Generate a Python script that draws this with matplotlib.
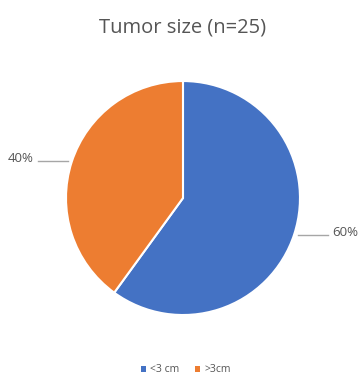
import numpy as np
import matplotlib
matplotlib.use("Agg")
import matplotlib.pyplot as plt
from matplotlib.patches import Patch

categories = ["<3 cm", ">3cm"]
values = [60, 40]
pct_labels = ["60%", "40%"]
colors = ["#4472C4", "#ED7D31"]
title = "Tumor size (n=25)"

plt.rcParams['font.family'] = ['Open Sans', 'DejaVu Sans']
text_color = "#555555"

fig = plt.figure(figsize=(3.63, 3.76), dpi=100)
ax = fig.add_axes([0.1818, 0.1622, 0.6446, 0.6223])
wedges, _ = ax.pie(values, colors=colors, startangle=90, counterclock=False,
                   radius=1.0, wedgeprops=dict(edgecolor="white", linewidth=1.5))
ax.set_xlim(-1, 1)
ax.set_ylim(-1, 1)
ax.set_aspect("equal")
ax.axis("off")

for w, lab in zip(wedges, pct_labels):
    ang = np.deg2rad((w.theta1 + w.theta2) / 2)
    cx, cy = np.cos(ang), np.sin(ang)
    sx, sy = 1.03 * cx, 1.03 * cy
    side = np.sign(cx)
    ex = side * 1.24
    ax.plot([sx, ex], [sy, sy], color="#a6a6a6", lw=1.0, clip_on=False)
    ax.text(ex + side * 0.04, sy + 0.02, lab, ha="left" if side > 0 else "right",
            va="center", fontsize=9.5, color=text_color, clip_on=False)

fig.text(183 / 363, 1 - 27 / 376, title, ha="center", va="center",
         fontsize=14.5, color=text_color)

handles = [Patch(facecolor=c, edgecolor="none") for c in colors]
fig.legend(handles, categories, loc="center", bbox_to_anchor=(186 / 363, 1 - 370 / 376),
           ncol=2, frameon=False, fontsize=7.5, handlelength=0.45, handleheight=0.45,
           handletextpad=0.4, columnspacing=1.5, labelcolor=text_color)

fig.savefig("out.png", dpi=100, facecolor="white")
